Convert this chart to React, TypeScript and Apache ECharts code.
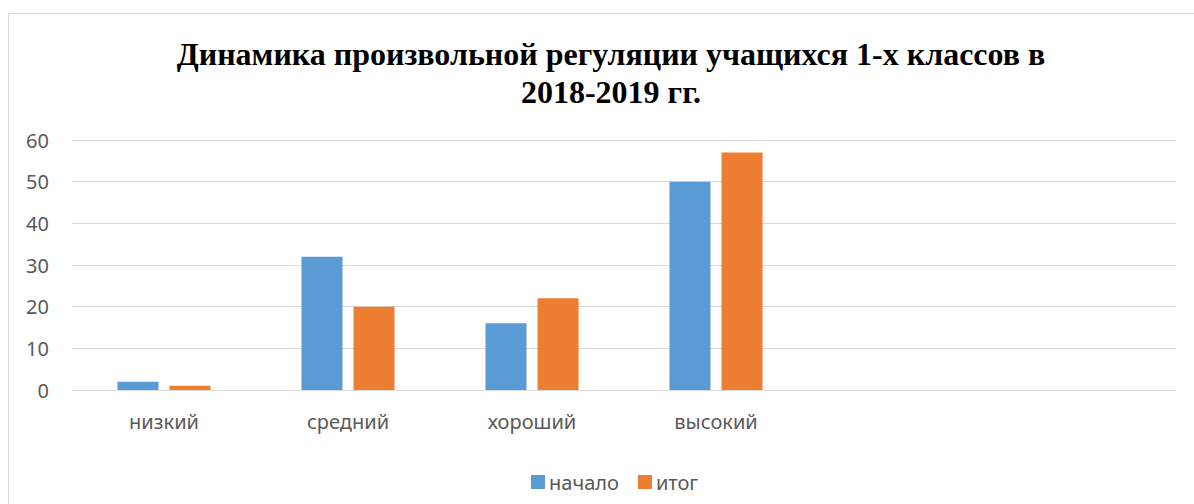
import React, { useEffect, useRef } from "react";
import * as echarts from "echarts";

const categories = ["низкий", "средний", "хороший", "высокий", "", ""];
const seriesNames = ["начало", "итог"];
const startValues = [2, 32, 16, 50];
const endValues = [1, 20, 22, 57];
const yTicks = { min: 0, max: 60, interval: 10 };
const titleText = "Динамика произвольной регуляции учащихся 1-х классов в\n2018-2019 гг.";

export default function App() {
  const ref = useRef<HTMLDivElement>(null);
  useEffect(() => {
    if (!ref.current) return;
    const chart = echarts.init(ref.current, null, { renderer: "svg" });
    const labelFont = "'Noto Sans', 'Open Sans', sans-serif";
    chart.setOption({
      animation: false,
      backgroundColor: "#ffffff",
      title: {
        text: titleText,
        left: 606,
        top: 30,
        textAlign: "center",
        textStyle: {
          fontFamily: "'Liberation Serif', 'Times New Roman', serif",
          fontWeight: "bold",
          fontSize: 32,
          lineHeight: 38,
          color: "#000000",
        },
      },
      graphic: [
        {
          type: "rect",
          shape: { x: 8.5, y: 13.5, width: 1200, height: 500 },
          style: { fill: "none", stroke: "#d9d9d9", lineWidth: 1 },
          silent: true,
        },
      ],
      legend: {
        data: seriesNames,
        left: 526,
        top: 467,
        itemWidth: 14,
        itemHeight: 14,
        itemGap: 19,
        icon: "rect",
        textStyle: { fontFamily: labelFont, fontSize: 20, color: "#595959", padding: [0, 0, 0, -1] },
      },
      grid: { left: 72, right: 18, top: 140, bottom: 114 },
      xAxis: {
        type: "category",
        data: categories,
        axisLine: { lineStyle: { color: "#d9d9d9", width: 1 } },
        axisTick: { show: false },
        axisLabel: { fontFamily: labelFont, fontSize: 20, color: "#595959", margin: 21, interval: 0 },
      },
      yAxis: {
        type: "value",
        min: yTicks.min,
        max: yTicks.max,
        interval: yTicks.interval,
        axisLine: { show: false },
        axisTick: { show: false },
        splitLine: { lineStyle: { color: "#d9d9d9", width: 1 } },
        axisLabel: { fontFamily: labelFont, fontSize: 20, color: "#595959", margin: 23 },
      },
      series: [
        {
          name: seriesNames[0],
          type: "bar",
          data: startValues,
          barWidth: 41,
          barGap: "27%",
          itemStyle: { color: "#5B9BD5" },
        },
        {
          name: seriesNames[1],
          type: "bar",
          data: endValues,
          barWidth: 41,
          itemStyle: { color: "#ED7D31" },
        },
      ],
    });
    return () => chart.dispose();
  }, []);
  return (
    <div
      ref={ref}
      style={{ position: "fixed", left: 0, top: 0, width: 1194, height: 504 }}
    />
  );
}
